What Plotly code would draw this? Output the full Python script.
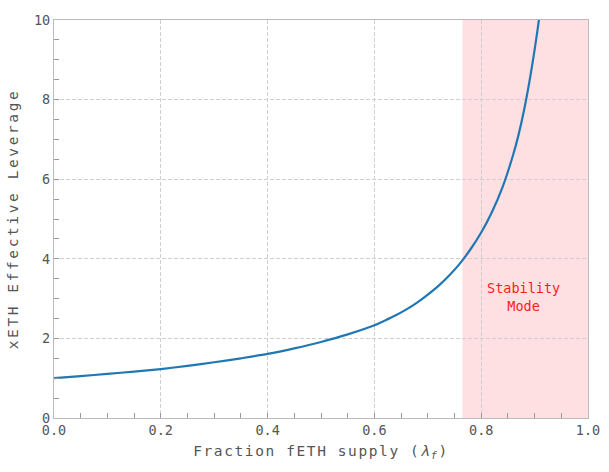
import plotly.graph_objects as go

# fraction of fETH supply (lambda_f) and xETH effective leverage
lam = [0.0, 0.05, 0.1, 0.15, 0.2, 0.25, 0.3, 0.35, 0.4, 0.45, 0.5, 0.55,
       0.6, 0.62, 0.64, 0.66, 0.68, 0.7, 0.72, 0.74, 0.76, 0.78, 0.8, 0.82,
       0.84, 0.86, 0.87, 0.88, 0.89, 0.9, 0.91, 0.915]
leverage = [1.0, 1.05, 1.11, 1.165, 1.23, 1.31, 1.40, 1.50, 1.61, 1.75, 1.91, 2.10,
            2.33, 2.45, 2.58, 2.73, 2.90, 3.10, 3.32, 3.58, 3.88, 4.24, 4.66, 5.17,
            5.80, 6.62, 7.12, 7.72, 8.43, 9.25, 10.2, 10.8]

stability_start = 0.765
stability_end = 1.0
stability_label = "Stability<br>Mode"
label_pos = (0.88, 3.05)

x_ticks = [0.0, 0.2, 0.4, 0.6, 0.8, 1.0]
x_tick_text = ["0.0", "0.2", "0.4", "0.6", "0.8", "1.0"]
y_ticks = [0, 2, 4, 6, 8, 10]

FONT = "DejaVu Sans Mono"
GRAY = "#555555"

fig = go.Figure()
fig.add_vrect(x0=stability_start, x1=stability_end, fillcolor="rgba(255,0,20,0.12)",
              line_width=0, layer="below")
fig.add_trace(go.Scatter(x=lam, y=leverage, mode="lines", line_shape="spline",
                         line=dict(color="#1f77b4", width=2.2, smoothing=0.8), showlegend=False,
                         hoverinfo="skip"))
fig.add_annotation(x=label_pos[0], y=label_pos[1], text=stability_label, showarrow=False,
                   font=dict(family=FONT, size=13.5, color="#ff1a1a"), align="center")

axis_common = dict(
    showline=True, linecolor="#bbbbbb", linewidth=1.2, mirror=True,
    showgrid=True, gridcolor="#cfcfcf", griddash="4px,2px", gridwidth=1,
    ticks="inside", ticklen=5, tickcolor="#999999",
    tickfont=dict(family=FONT, size=13.5, color=GRAY),
    zeroline=False, automargin=False,
)

fig.update_xaxes(range=[0, 1], tickvals=x_ticks, ticktext=x_tick_text,
                 minor=dict(dtick=0.05, ticks="inside", ticklen=5, tickcolor="#999999", showgrid=False),
                 title=dict(text="Fraction fETH supply (<i>λ</i><sub><i>f</i></sub>)",
                            font=dict(family=FONT, size=14.5, color=GRAY), standoff=8),
                 **axis_common)
fig.update_yaxes(range=[0, 10], tickvals=y_ticks,
                 minor=dict(dtick=0.5, ticks="inside", ticklen=5, tickcolor="#999999", showgrid=False),
                 title=dict(text="xETH Effective Leverage",
                            font=dict(family=FONT, size=14.5, color=GRAY), standoff=11),
                 **axis_common)

fig.update_layout(width=609, height=472, margin=dict(l=54, r=21, t=20, b=54),
                  plot_bgcolor="white", paper_bgcolor="white")

post = """
document.body.style.margin = '0px';
function spaceTitles(){
  document.querySelectorAll('.xtitle').forEach(function(e){e.style.letterSpacing='1.6px';});
  document.querySelectorAll('.ytitle').forEach(function(e){e.style.letterSpacing='2.6px';});
}
spaceTitles();
var gd = document.getElementById('{plot_id}');
if (gd && gd.on) { gd.on('plotly_afterplot', spaceTitles); }
"""

fig.write_html("out.html", post_script=post, config={"displayModeBar": False})
